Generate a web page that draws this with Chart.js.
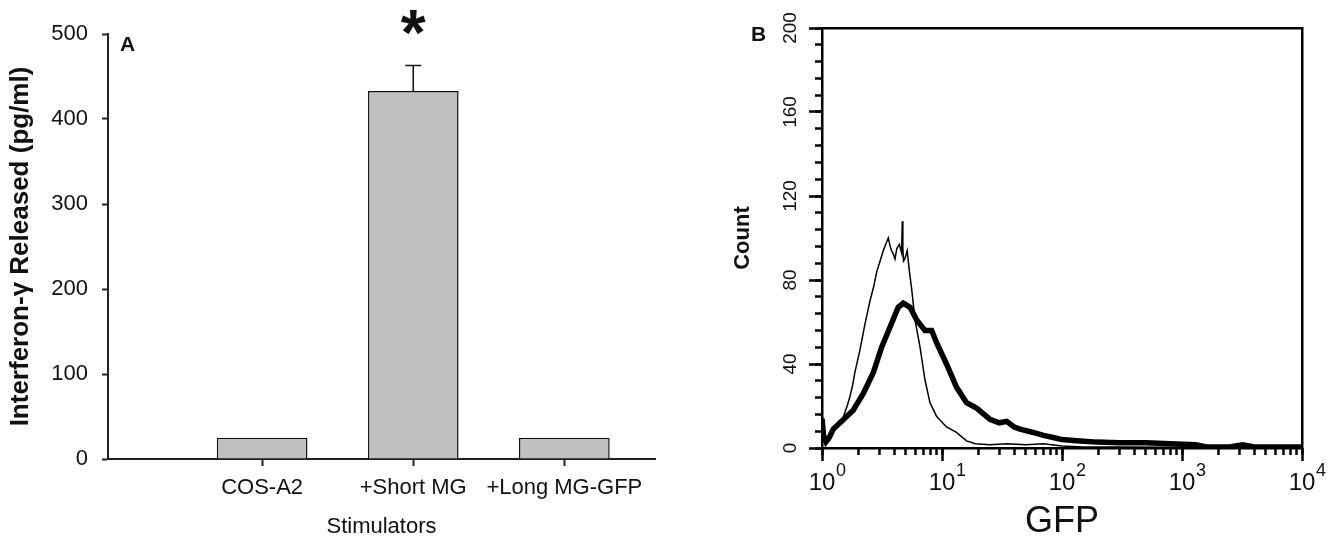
<!DOCTYPE html>
<html>
<head>
<meta charset="utf-8">
<script src="https://cdn.jsdelivr.net/npm/chart.js@4.4.1/dist/chart.umd.min.js"></script>
<style>
  body { margin:0; background:#fff; width:1335px; height:546px; overflow:hidden; position:relative;
         font-family:'Liberation Sans', Arial, sans-serif; }
  .panel { position:absolute; top:0; height:546px; }
  #boxA { left:0; width:690px; }
  #boxB { left:700px; width:635px; }
  .tag { position:absolute; font-weight:bold; font-size:21px; color:#111; }
</style>
</head>
<body>
<div class="panel" id="boxA"><canvas id="chartA"></canvas></div>
<div class="panel" id="boxB"><canvas id="chartB"></canvas></div>
<div class="tag" style="left:120px;top:32px">A</div>
<div class="tag" style="left:751px;top:22px">B</div>
<script>
// panel A - IFN-gamma release
const stimulators = ['COS-A2', '+Short MG', '+Long MG-GFP'];
const ifnReleased = [25, 433, 25];
const ifnError = [0, 30, 0];
const significant = [false, true, false];
const ifnTicks = [0, 100, 200, 300, 400, 500];

// panel B - GFP histogram (x = GFP intensity, y = count)
const gfpTicks = [1, 10, 100, 1000, 10000];
const countTicks = [0, 40, 80, 120, 160, 200];
const ctrlX = [1.0, 1.04, 1.1, 1.24, 1.38, 1.51, 1.62, 1.71, 1.8, 1.88, 2.07, 2.28, 2.51, 2.7, 2.86, 3.05, 3.24, 3.4, 3.57, 3.7, 3.8, 3.95, 4.06, 4.2, 4.41, 4.6, 4.67, 4.72, 4.78, 4.9, 5.13, 5.35, 5.58, 5.96, 6.56, 7.21, 7.94, 9.03, 10.9, 13.2, 16.0, 19.0, 25, 35, 50, 70, 100, 150, 300, 1000, 10000];
const ctrlY = [17, 4, 3, 7.5, 11, 15, 20, 24.5, 30, 36, 46.6, 59, 70, 77, 84, 89, 94, 97, 100, 96, 94, 92, 90, 95, 97, 93, 108, 95, 89, 90, 94, 84, 76, 61, 48, 32.5, 21.6, 15, 10, 7.4, 3.4, 2, 1.5, 2, 1.5, 2, 1, 0.5, 0.5, 0.3, 0.3];
const gfpX = [1.0, 1.03, 1.08, 1.15, 1.24, 1.51, 1.82, 2.21, 2.68, 3.14, 3.69, 4.32, 4.76, 5.41, 6.15, 7.21, 8.2, 9.03, 10.9, 13.2, 16.0, 19.4, 25.1, 30, 34.6, 40, 44.7, 57.6, 70, 84.5, 100, 132, 195, 300, 500, 800, 1300, 1600, 2500, 3200, 4000, 10000];
const gfpY = [14, 6, 3, 5, 9, 13.6, 18, 26, 36, 48, 57.6, 67, 69, 67, 61, 56, 56, 50, 40, 29, 21.6, 19, 13.6, 12, 12.7, 10, 9, 7.4, 6, 5, 4, 3.5, 2.8, 2.5, 2.5, 2, 1.5, 0.5, 0.5, 1.5, 0.5, 0.5];

const FONT = "'Liberation Sans', Arial, sans-serif";
Chart.defaults.font.family = FONT;
Chart.defaults.color = '#111';

// error bars + significance star, drawn through the scales
const errorBars = {
  id: 'errorBars',
  afterDatasetsDraw(chart) {
    const {ctx, scales: {x, y}} = chart;
    ctx.save();
    ctx.strokeStyle = '#111';
    ctx.lineWidth = 1.5;
    ifnReleased.forEach((v, i) => {
      const px = x.getPixelForValue(i + 1);
      const top = y.getPixelForValue(v + ifnError[i]);
      if (ifnError[i]) {
        ctx.beginPath();
        ctx.moveTo(px, y.getPixelForValue(v));
        ctx.lineTo(px, top);
        ctx.moveTo(px - 8, top);
        ctx.lineTo(px + 8, top);
        ctx.stroke();
      }
      if (significant[i]) {
        ctx.fillStyle = '#111';
        ctx.font = 'bold 64px ' + FONT;
        ctx.textAlign = 'center';
        ctx.textBaseline = 'alphabetic';
        ctx.fillText('*', px, top - 10);
      }
    });
    ctx.restore();
  }
};

new Chart(document.getElementById('chartA'), {
  type: 'bar',
  data: {
    datasets: [{
      data: stimulators.map((s, i) => ({x: i + 1, y: ifnReleased[i]})),
      backgroundColor: '#c0c0c0',
      borderColor: '#111',
      borderWidth: 1.5,
      barPercentage: 0.6,
      categoryPercentage: 1
    }]
  },
  options: {
    responsive: true,
    maintainAspectRatio: false,
    animation: false,
    layout: {padding: {top: 34, right: 35, left: 0, bottom: 0}},
    plugins: {legend: {display: false}, tooltip: {enabled: false}},
    scales: {
      x: {
        type: 'linear', offset: false, min: -0.02, max: 3.6,
        afterBuildTicks: s => { s.ticks = stimulators.map((_, i) => ({value: i + 1})); },
        afterFit: s => { s.height = 87; },
        grid: {offset: false, drawOnChartArea: false, tickLength: 7, tickColor: '#222', tickWidth: 2},
        border: {color: '#222', width: 2},
        ticks: {callback: v => stimulators[v - 1], font: {size: 22}, padding: 9, maxRotation: 0, autoSkip: false},
        title: {display: true, text: 'Stimulators', font: {size: 22}, padding: {bottom: 6}}
      },
      y: {
        min: 0, max: 500,
        afterBuildTicks: s => { s.ticks = ifnTicks.map(v => ({value: v})); },
        afterFit: s => { s.width = 108; },
        grid: {drawOnChartArea: false, tickLength: 6, tickColor: '#222', tickWidth: 2},
        border: {color: '#222', width: 2},
        ticks: {font: {size: 22}, padding: 14},
        title: {display: true, text: 'Interferon-\u03b3 Released (pg/ml)', font: {size: 26, weight: 'bold'}, padding: {top: 5}}
      }
    }
  },
  plugins: [errorBars]
});

// exponent of the 10^n labels, set as a raised smaller digit beside the library's "10"
const logExponents = {
  id: 'logExponents',
  afterDraw(chart) {
    const {ctx, scales: {x}} = chart;
    ctx.save();
    ctx.fillStyle = '#111';
    ctx.font = '18px ' + FONT;
    ctx.textAlign = 'left';
    ctx.textBaseline = 'alphabetic';
    gfpTicks.forEach(v => {
      const px = x.getPixelForValue(v);
      ctx.fillText(String(Math.round(Math.log10(v))), px + 14, x.top + 28);
    });
    ctx.restore();
  }
};

const minorLog = [];
for (let d = 1; d < 10000; d *= 10) for (let k = 1; k < 10; k++) minorLog.push(d * k);
minorLog.push(10000);

new Chart(document.getElementById('chartB'), {
  type: 'line',
  data: {
    datasets: [
      {data: gfpX.map((v, i) => ({x: v, y: gfpY[i]})), borderColor: '#000', borderWidth: 5.5, pointRadius: 0, tension: 0, fill: false},
      {data: ctrlX.map((v, i) => ({x: v, y: ctrlY[i]})), borderColor: '#000', borderWidth: 1.5, pointRadius: 0, tension: 0, fill: false}
    ]
  },
  options: {
    responsive: true,
    maintainAspectRatio: false,
    animation: false,
    layout: {padding: {top: 28, right: 33, left: 0, bottom: 0}},
    plugins: {legend: {display: false}, tooltip: {enabled: false}},
    scales: {
      x: {
        type: 'logarithmic', min: 1, max: 10000, weight: 1,
        afterBuildTicks: s => { s.ticks = gfpTicks.map(v => ({value: v})); },
        afterFit: s => { s.height = 98; },
        grid: {drawOnChartArea: false, tickLength: 13, tickColor: '#000', tickWidth: 2.5},
        border: {color: '#000', width: 2.5},
        ticks: {callback: () => '10', font: {size: 24}, padding: 8, maxRotation: 0, autoSkip: false},
        title: {display: true, text: 'GFP', font: {size: 36}, padding: {bottom: 2}}
      },
      xMinor: {
        axis: 'x', type: 'logarithmic', position: 'bottom', min: 1, max: 10000, weight: 0,
        afterBuildTicks: s => { s.ticks = minorLog.map(v => ({value: v})); },
        afterFit: s => { s.height = 0; },
        grid: {drawOnChartArea: false, tickLength: 7, tickColor: '#000', tickWidth: 2.5},
        border: {display: false},
        ticks: {display: false}
      },
      xTop: {
        axis: 'x', type: 'linear', position: 'top',
        afterFit: s => { s.height = 0; },
        grid: {display: false},
        border: {color: '#000', width: 2.5},
        ticks: {display: false}
      },
      y: {
        min: 0, max: 200, weight: 1,
        afterBuildTicks: s => { s.ticks = countTicks.map(v => ({value: v})); },
        afterFit: s => { s.width = 122; },
        grid: {drawOnChartArea: false, tickLength: 13, tickColor: '#000', tickWidth: 2.5},
        border: {color: '#000', width: 2.5},
        ticks: {font: {size: 19}, padding: 2, minRotation: 90, maxRotation: 90, crossAlign: 'center'},
        title: {display: true, text: 'Count', font: {size: 22, weight: 'bold'}, padding: {top: 30}}
      },
      yMinor: {
        axis: 'y', type: 'linear', position: 'left', min: 0, max: 200, weight: 0,
        ticks: {display: false, stepSize: 8},
        afterFit: s => { s.width = 0; },
        grid: {drawOnChartArea: false, tickLength: 7, tickColor: '#000', tickWidth: 2.5},
        border: {display: false}
      },
      yRight: {
        axis: 'y', type: 'linear', position: 'right',
        afterFit: s => { s.width = 0; },
        grid: {display: false},
        border: {color: '#000', width: 2.5},
        ticks: {display: false}
      }
    }
  },
  plugins: [logExponents]
});
</script>
</body>
</html>
